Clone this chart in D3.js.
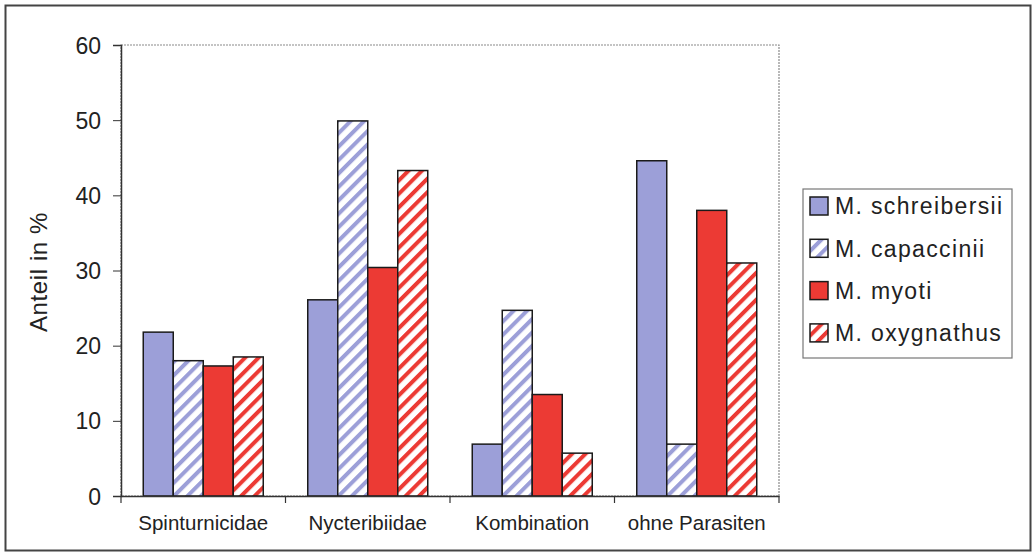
<!DOCTYPE html>
<html><head><meta charset="utf-8">
<script src="https://cdn.jsdelivr.net/npm/d3@7/dist/d3.min.js"></script>
<style>body{margin:0;background:#fff}svg{display:block}</style>
</head><body>
<svg id="chart" width="1033" height="555"></svg>
<script>
const categories = ["Spinturnicidae", "Nycteribiidae", "Kombination", "ohne Parasiten"];
const seriesNames = ["M. schreibersii", "M. capaccinii", "M. myoti", "M. oxygnathus"];
const schreibersii = [21.8, 26.1, 6.9, 44.6];
const capaccinii  = [18.0, 49.9, 24.7, 6.9];
const myoti       = [17.3, 30.4, 13.5, 38.0];
const oxygnathus  = [18.5, 43.3, 5.7, 31.0];
const yTicks = [0, 10, 20, 30, 40, 50, 60];
const seriesValues = [schreibersii, capaccinii, myoti, oxygnathus];

const BLUE = "#9c9fd8", RED = "#ec3a34";
const styles = [
  {fill: BLUE}, {fill: "url(#hatchBlue)"}, {fill: RED}, {fill: "url(#hatchRed)"}
];

const svg = d3.select("#chart");
const defs = svg.append("defs");
function hatch(id, color) {
  const p = defs.append("pattern").attr("id", id).attr("patternUnits", "userSpaceOnUse")
    .attr("width", 9.5).attr("height", 9.5).attr("patternTransform", "rotate(45)");
  p.append("rect").attr("width", 9.5).attr("height", 9.5).attr("fill", "#fff");
  p.append("rect").attr("x", 0).attr("width", 4).attr("height", 9.5).attr("fill", color);
}
hatch("hatchBlue", BLUE);
hatch("hatchRed", RED);

// outer border
svg.append("rect").attr("x", 5.5).attr("y", 5.5).attr("width", 1025).attr("height", 545)
  .attr("fill", "#fff").attr("stroke", "#444").attr("stroke-width", 2);

const L = 121, R = 779, T = 45, B = 496;
const x0 = d3.scaleBand().domain(categories).range([L, R]).paddingInner(0).paddingOuter(0);
const groupW = 120;
const x1 = d3.scaleBand().domain(d3.range(4)).range([0, groupW]);
const y = d3.scaleLinear().domain([0, 60]).range([B, T]);

// plot area border
svg.append("rect").attr("x", L).attr("y", T).attr("width", R - L).attr("height", B - T)
  .attr("fill", "none").attr("stroke", "#8a8a8a").attr("stroke-width", 1.2).attr("stroke-dasharray", "2,1");

// bars
const groups = svg.append("g").selectAll("g").data(categories).join("g")
  .attr("transform", d => `translate(${x0(d) + (x0.bandwidth() - groupW) / 2},0)`);
groups.selectAll("rect").data((c, ci) => seriesValues.map((s, si) => ({si, v: s[ci]})))
  .join("rect")
  .attr("x", d => x1(d.si)).attr("width", x1.bandwidth())
  .attr("y", d => y(d.v)).attr("height", d => y(0) - y(d.v))
  .attr("fill", d => styles[d.si].fill)
  .attr("stroke", "#1a1a1a").attr("stroke-width", 1.5);

// y axis
const yAxis = d3.axisLeft(y).tickValues(yTicks).tickSize(8).tickPadding(12).tickFormat(d3.format("d"));
const ga = svg.append("g").attr("transform", `translate(${L},0)`).call(yAxis);
ga.select(".domain").attr("stroke", "#333").attr("stroke-width", 1.5);
ga.selectAll(".tick line").attr("stroke", "#333");
ga.selectAll("text").attr("font-family", "Liberation Sans, Arial, sans-serif")
  .attr("font-size", 23).attr("fill", "#222").attr("dy", "0.35em");

// x axis
const xAxis = d3.axisBottom(x0).tickSize(0).tickPadding(19);
const gx = svg.append("g").attr("transform", `translate(0,${B})`).call(xAxis);
gx.select(".domain").attr("stroke", "#333").attr("stroke-width", 1.5);
gx.selectAll("text").attr("font-family", "Liberation Sans, Arial, sans-serif")
  .attr("font-size", 20.5).attr("fill", "#222");
// category separator ticks
const seps = categories.map(c => x0(c)).concat([R]);
svg.append("g").selectAll("line").data(seps).join("line")
  .attr("x1", d => d).attr("x2", d => d).attr("y1", B).attr("y2", B + 7)
  .attr("stroke", "#333").attr("stroke-width", 1.2);

// y title
svg.append("text").attr("transform", "translate(47,272) rotate(-90)")
  .attr("text-anchor", "middle").attr("font-family", "Liberation Sans, Arial, sans-serif")
  .attr("font-size", 24).attr("letter-spacing", 0.6).attr("fill", "#222").text("Anteil in %");

// legend
const lg = svg.append("g");
lg.append("rect").attr("x", 803).attr("y", 189).attr("width", 209).attr("height", 169)
  .attr("fill", "#fff").attr("stroke", "#777").attr("stroke-width", 1.2);
const items = lg.selectAll("g").data(seriesNames).join("g")
  .attr("transform", (d, i) => `translate(810,${206 + i * 42.3})`);
items.append("rect").attr("x", 0).attr("y", -9).attr("width", 18).attr("height", 18)
  .attr("fill", (d, i) => styles[i].fill).attr("stroke", "#1a1a1a").attr("stroke-width", 1.5);
items.append("text").attr("x", 25).attr("y", 0).attr("dy", "0.36em")
  .attr("font-family", "Liberation Sans, Arial, sans-serif").attr("font-size", 23)
  .attr("letter-spacing", 1.35).attr("fill", "#222").text(d => d);
</script>
</body></html>
